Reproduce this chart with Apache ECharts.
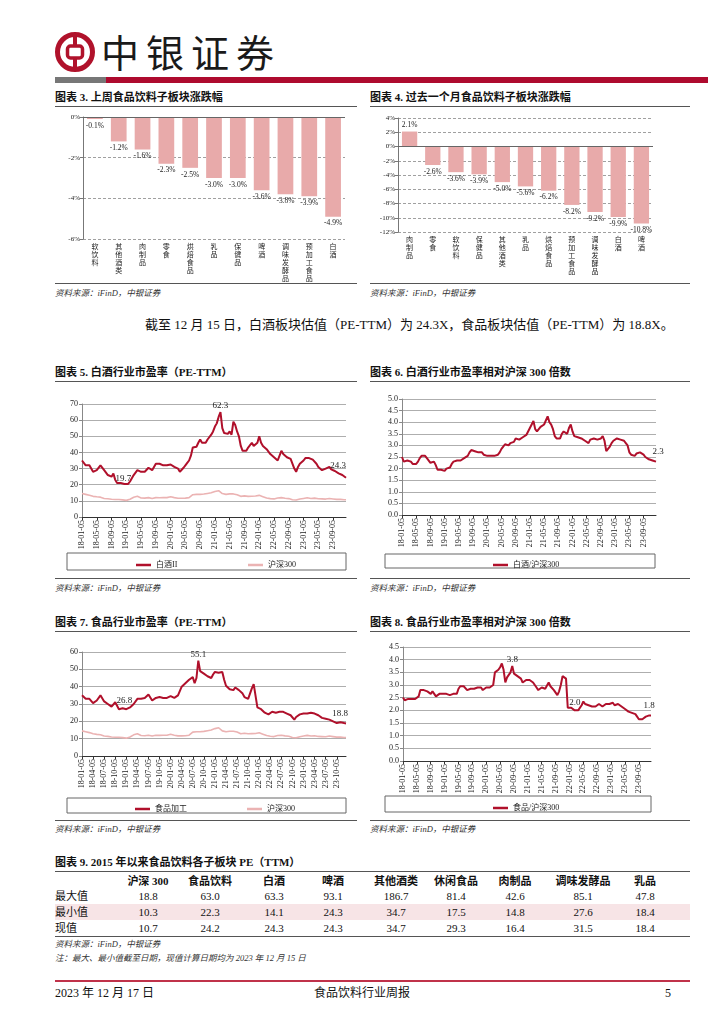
<!DOCTYPE html>
<html><head><meta charset="utf-8">
<script src="https://cdn.jsdelivr.net/npm/echarts@6/dist/echarts.min.js"></script>
<style>
html,body{margin:0;padding:0}
body{width:724px;height:1024px;position:relative;background:#fff;font-family:"Liberation Serif","Noto Sans CJK SC",serif;overflow:hidden;color:#111}
.abs{position:absolute;white-space:nowrap}
.title{font-weight:bold;font-size:11px;font-family:"Liberation Serif","Noto Sans CJK SC",serif;line-height:14px}
.hr{position:absolute;height:0;border-top:1.5px solid #555}
.src{font-style:italic;font-size:8.5px;color:#333;line-height:12px}
.chart{position:absolute}
.cell{position:absolute;transform:translateX(-50%);font-size:11px;line-height:14px;white-space:nowrap}
</style></head>
<body>
<script>
// ===== DATA =====
const wkCats = ['软饮料','其他酒类','肉制品','零食','烘焙食品','乳品','保健品','啤酒','调味发酵品','预加工食品','白酒'];
const wkVals = [-0.1,-1.2,-1.6,-2.3,-2.5,-3.0,-3.0,-3.6,-3.8,-3.9,-4.9];
const moCats = ['肉制品','零食','软饮料','保健品','其他酒类','乳品','烘焙食品','预加工食品','调味发酵品','白酒','啤酒'];
const moVals = [2.1,-2.6,-3.6,-3.9,-5.0,-5.6,-6.2,-8.2,-9.2,-9.9,-10.8];

// semi-monthly series 2018-01 .. 2023-12 (two readings per month)
const baijiuPE = [
 35,36, 32,33, 32,31, 28,28.5, 29,30, 32,31, 29,28, 26,25, 25,27, 23,21, 20.5,21, 21.5,20.5,
 19.7,20.5, 22,24, 26,27, 29,28.5, 28,28, 28,29, 30.5,30, 29,30, 33,33.5, 33,32.5, 32,33, 32,32,
 32.5,31.5, 31,31.5, 30,28, 29,30.5, 32,33.5, 35,38, 43,44, 43.5,46, 48,46, 45,46, 48,49, 51,53,
 56,58, 62,65, 55,52, 53,51.5, 53,51, 59,57, 53,50, 44,41, 42,41, 43,44, 46,44, 44,46,
 50,46, 44,44, 42,41, 39,38, 37,36, 35,36, 41,39, 38,37, 36,36, 35,30, 28,31, 33,34,
 35,36.5, 37,36.5, 36,35.5, 35,33, 31,30, 29,29.5, 30,30.5, 31,29.5, 29,28.5, 28,27, 27,26, 25.5,24.3
];
const hs300PE = [
 14.5,15, 14,13.5, 13.5,13, 12.8,12.5, 12.5,12.6, 12.3,11.8, 11.5,11.8, 11.3,11.2, 11,11.3, 10.8,10.6, 10.8,10.7, 10.6,10.4,
 10.3,10.6, 11,11.8, 12.2,12.4, 12.8,12.6, 11.8,11.5, 11.7,12, 12,11.9, 11.5,11.6, 12,12.1, 11.9,12, 12,11.8, 12,12.3,
 12.5,12.3, 12,12.4, 11.6,11.2, 11.6,11.8, 11.7,11.8, 12,12.4, 13.8,14, 14,14.3, 14,13.8, 14.2,14.2, 14.6,14.8, 15,15.2,
 15.8,16, 16.3,15.5, 14.5,14.3, 14,14.2, 14.3,14, 14.3,14, 13.8,13, 12.8,12.9, 13.1,13, 12.8,12.9, 12.9,12.8, 13,13.1,
 13.4,12.9, 12.6,12.5, 11.8,11.5, 11.4,11, 11.2,11.3, 11.8,12, 12,11.7, 11.6,11.6, 11.4,10.9, 10.7,10.3, 10.5,10.8, 11.1,11.2,
 11.5,11.8, 11.9,11.7, 11.5,11.6, 11.7,11.5, 11.3,11.1, 11.2,11.2, 11.1,11.4, 11.5,11.2, 11.2,11.1, 10.9,10.8, 10.9,10.8, 10.7,10.7
];
const baijiuRel = [
 2.5,2.3, 2.3,2.35, 2.35,2.3, 2.2,2.15, 2.2,2.3, 2.45,2.55, 2.6,2.55, 2.45,2.4, 2.25,2.25, 2.3,2.15, 1.95,1.9, 1.95,2.0,
 1.9,2.0, 2.0,2.05, 2.2,2.3, 2.3,2.35, 2.4,2.35, 2.4,2.45, 2.5,2.55, 2.7,2.8, 2.75,2.75, 2.75,2.7, 2.75,2.7, 2.6,2.55,
 2.55,2.6, 2.55,2.6, 2.55,2.6, 2.6,2.7, 2.85,2.95, 3.05,3.05, 3.0,3.1, 3.1,3.15, 3.3,3.25, 3.25,3.3, 3.35,3.4, 3.45,3.5,
 3.75,3.9, 4.05,3.7, 3.6,3.65, 3.8,3.75, 3.9,3.95, 4.25,4.0, 3.9,3.7, 3.4,3.3, 3.35,3.3, 3.5,3.6, 3.55,3.5, 3.75,3.9,
 3.6,3.4, 3.4,3.35, 3.3,3.3, 3.25,3.2, 3.15,3.1, 3.25,3.3, 3.3,3.3, 3.25,3.3, 3.3,3.4, 3.2,2.75, 2.8,2.95, 3.1,3.2,
 3.25,3.3, 3.3,3.25, 3.25,3.2, 3.1,3.0, 2.7,2.6, 2.6,2.55, 2.65,2.6, 2.7,2.75, 2.6,2.5, 2.45,2.4, 2.4,2.35, 2.35,2.3
];
const foodPE = [
 35,35.5, 33,34, 33,32, 30.5,30, 32,33, 35,34, 31.5,31, 30,29, 28.5,29, 31,29, 27,27.5, 27.5,27,
 27,27.5, 28,29, 30,31, 33,34, 33,33, 33.5,34, 35.5,34.5, 32,31.5, 33.5,34, 34,33.5, 33.5,34, 33.5,34.5,
 34.5,35, 33.5,34.5, 35,36, 40,40.5, 42,42.5, 44,45, 45.5,42, 45,55, 49,48, 47.5,46.5, 46,46, 45,47,
 48.5,49.5, 48,49, 48.5,44, 40.5,39.5, 38.5,39, 38,39.5, 40,38, 37,36, 34,33, 33,36, 39,41.5, 40.5,28,
 28,27, 26,25, 24.5,24, 24.5,25.5, 25.5,25, 25,25.5, 26.5,25.5, 25,24.5, 24,23.5, 23.5,21, 22.5,23.5, 24,24.5,
 24.5,24.5, 24.5,25, 25,24.5, 24.5,24, 23.5,23, 22,21.5, 21.5,21, 21,20.5, 20,19.5, 19,18.5, 19.5,19.5, 19,18.8
];
const foodRel = [
 2.5,2.4, 2.4,2.45, 2.45,2.45, 2.5,2.45, 2.5,2.55, 2.8,2.75, 2.8,2.85, 2.75,2.7, 2.65,2.75, 2.7,2.55, 2.6,2.65, 2.65,2.65,
 2.7,2.65, 2.65,2.6, 2.55,2.65, 2.7,2.65, 2.85,2.95, 3.0,2.95, 2.9,2.8, 2.85,2.85, 2.9,2.85, 2.85,2.9, 2.95,2.9, 2.8,2.85,
 2.9,2.95, 2.9,2.95, 3.0,3.5, 3.55,3.6, 3.7,3.85, 3.6,3.1, 3.3,3.4, 3.5,3.75, 3.45,3.4, 3.35,3.3, 3.25,3.1, 3.05,3.2,
 3.25,3.2, 3.15,3.1, 3.0,2.9, 2.8,2.85, 2.9,2.9, 2.85,2.9, 3.1,2.95, 2.9,2.8, 2.7,2.6, 2.75,3.0, 3.35,3.3, 3.25,2.1,
 2.15,2.1, 2.05,2.0, 1.98,2.0, 2.05,2.2, 2.35,2.25, 2.2,2.2, 2.2,2.15, 2.2,2.15, 2.2,2.25, 2.2,2.15, 2.2,2.25, 2.2,2.25,
 2.3,2.3, 2.2,2.25, 2.25,2.2, 2.15,2.1, 2.05,2.0, 1.95,1.95, 1.9,1.9, 1.85,1.75, 1.65,1.65, 1.65,1.7, 1.75,1.75, 1.8,1.8
];
// annotated points: index into the series, text shown
const baijiuNotes = [{i:24,t:'19.7'},{i:75,t:'62.3'},{i:143,t:'24.3'}];
const baijiuRelNotes = [{i:143,t:'2.3'}];
const foodNotes = [{i:23,t:'26.8'},{i:63,t:'55.1'},{i:143,t:'18.8'}];
const foodRelNotes = [{i:63,t:'3.8'},{i:98,t:'2.0'},{i:143,t:'1.8'}];

const tableHeaders = ['沪深 300','食品饮料','白酒','啤酒','其他酒类','休闲食品','肉制品','调味发酵品','乳品'];
const tableRowNames = ['最大值','最小值','现值'];
const tableMax = ['18.8','63.0','63.3','93.1','186.7','81.4','42.6','85.1','47.8'];
const tableMin = ['10.3','22.3','14.1','24.3','34.7','17.5','14.8','27.6','18.4'];
const tableNow = ['10.7','24.2','24.3','24.3','34.7','29.3','16.4','31.5','18.4'];
</script>

<!-- header -->
<svg class="abs" style="left:54px;top:31px" width="42" height="42" viewBox="0 0 42 42">
 <circle cx="21" cy="21" r="17.5" fill="none" stroke="#B0122B" stroke-width="5"/>
 <rect x="13.5" y="15" width="15" height="12" rx="3" fill="none" stroke="#B0122B" stroke-width="3.5"/>
 <rect x="19" y="3" width="4" height="12" fill="#B0122B"/>
 <rect x="19" y="27" width="4" height="12" fill="#B0122B"/>
</svg>
<div class="abs" style="left:101px;top:28px;font-size:38px;line-height:46px;letter-spacing:7px;font-family:'Noto Sans CJK SC';color:#1a1a1a">中银证券</div>
<div class="abs" style="left:55px;top:77px;width:51px;height:6px;background:#777"></div>
<div class="abs" style="left:106px;top:77px;width:602px;height:6px;background:#AE0A2E"></div>

<div class="abs title" style="left:55px;top:90px">图表 3. 上周食品饮料子板块涨跌幅</div>
<div class="abs title" style="left:370px;top:90px">图表 4. 过去一个月食品饮料子板块涨跌幅</div>
<div class="hr" style="left:55px;top:106px;width:302px"></div>
<div class="hr" style="left:370px;top:106px;width:320px"></div>
<div id="c3" class="chart" style="left:55px;top:108px;width:302px;height:175px"></div>
<div id="c4" class="chart" style="left:370px;top:108px;width:320px;height:175px"></div>
<div class="hr" style="left:55px;top:283px;width:302px"></div>
<div class="hr" style="left:370px;top:283px;width:320px"></div>
<div class="abs src" style="left:55px;top:287px">资料来源：iFinD，中银证券</div>
<div class="abs src" style="left:370px;top:287px">资料来源：iFinD，中银证券</div>

<div class="abs" style="left:145px;top:316px;font-size:13px;line-height:18px">截至 12 月 15 日，白酒板块估值（PE-TTM）为 24.3X，食品板块估值（PE-TTM）为 18.8X。</div>

<div class="abs title" style="left:55px;top:365px">图表 5. 白酒行业市盈率（PE-TTM）</div>
<div class="abs title" style="left:370px;top:365px">图表 6. 白酒行业市盈率相对沪深 300 倍数</div>
<div class="hr" style="left:55px;top:381px;width:302px"></div>
<div class="hr" style="left:370px;top:381px;width:320px"></div>
<div id="c5" class="chart" style="left:55px;top:390px;width:302px;height:185px"></div>
<div id="c6" class="chart" style="left:370px;top:390px;width:320px;height:185px"></div>
<div class="hr" style="left:55px;top:578px;width:302px"></div>
<div class="hr" style="left:370px;top:578px;width:320px"></div>
<div class="abs src" style="left:55px;top:582px">资料来源：iFinD，中银证券</div>
<div class="abs src" style="left:370px;top:582px">资料来源：iFinD，中银证券</div>

<div class="abs title" style="left:55px;top:615px">图表 7. 食品行业市盈率（PE-TTM）</div>
<div class="abs title" style="left:370px;top:615px">图表 8. 食品行业市盈率相对沪深 300 倍数</div>
<div class="hr" style="left:55px;top:631px;width:302px"></div>
<div class="hr" style="left:370px;top:631px;width:320px"></div>
<div id="c7" class="chart" style="left:55px;top:640px;width:302px;height:178px"></div>
<div id="c8" class="chart" style="left:370px;top:640px;width:320px;height:178px"></div>
<div class="hr" style="left:55px;top:820px;width:302px"></div>
<div class="hr" style="left:370px;top:820px;width:320px"></div>
<div class="abs src" style="left:55px;top:823px">资料来源：iFinD，中银证券</div>
<div class="abs src" style="left:370px;top:823px">资料来源：iFinD，中银证券</div>

<div class="abs title" style="left:55px;top:855px">图表 9. 2015 年以来食品饮料各子板块 PE（TTM）</div>
<div class="hr" style="left:55px;top:871px;width:635px"></div>
<div class="abs" style="left:55px;top:904px;width:635px;height:16px;background:#F7E4E6"></div>
<div id="tbl"></div>
<div class="hr" style="left:55px;top:936px;width:635px"></div>
<div class="abs src" style="left:55px;top:938px">资料来源：iFinD，中银证券</div>
<div class="abs src" style="left:55px;top:952px">注：最大、最小值截至日期，现值计算日期均为 2023 年 12 月 15 日</div>

<div class="abs" style="left:55px;top:980px;width:635px;height:2px;background:#C0324A"></div>
<div class="abs" style="left:55px;top:985px;font-size:12px;line-height:16px">2023 年 12 月 17 日</div>
<div class="abs" style="left:362px;top:985px;font-size:12px;line-height:16px;transform:translateX(-50%)">食品饮料行业周报</div>
<div class="abs" style="left:665px;top:985px;font-size:12px;line-height:16px">5</div>

<script>
// dates (category axis)
const dates = [];
for (let y = 18; y <= 23; y++) {
  for (let m = 1; m <= 12; m++) {
    const mm = (m < 10 ? '0' : '') + m;
    dates.push(y + '-' + mm + '-05');
    dates.push(y + '-' + mm + (y === 23 && m === 12 ? '-15' : '-20'));
  }
}

const FONT = '"Liberation Serif","Noto Sans CJK SC",serif';
const RED = '#B0102B', PINK = '#EBB3B3', BAR = '#E8AAAA';

// table
(function(){
  const centers = [148,210,274,333,396,456,515,583,645];
  const rows = [tableMax, tableMin, tableNow];
  let h = '';
  tableHeaders.forEach((t,i)=>{ h += `<div class="cell" style="left:${centers[i]}px;top:874px;font-weight:bold">${t}</div>`; });
  tableRowNames.forEach((n,r)=>{
    const top = 889 + r*16;
    h += `<div class="abs" style="left:55px;top:${top}px;font-size:11px;line-height:14px">${n}</div>`;
    rows[r].forEach((v,i)=>{ h += `<div class="cell" style="left:${centers[i]}px;top:${top}px">${v}</div>`; });
  });
  document.getElementById('tbl').innerHTML = h;
})();

function barChart(id, cats, vals, ymin, ymax, grid) {
  const ch = echarts.init(document.getElementById(id), null, {renderer:'canvas'});
  ch.setOption({
    animation:false,
    grid: grid,
    xAxis: {
      type:'category', data:cats, position:'bottom',
      axisLine:{show:false, onZero:false}, axisTick:{show:false},
      axisLabel:{interval:0, fontFamily:FONT, fontSize:7, lineHeight:8, color:'#222', margin:4,
        verticalAlign:'top', formatter:v=>v.split('').join('\n')}
    },
    yAxis: {
      type:'value', min:ymin, max:ymax, interval:2,
      axisLine:{show:true, lineStyle:{color:'#777'}}, axisTick:{show:true, length:3, lineStyle:{color:'#777'}},
      axisLabel:{fontFamily:FONT, fontSize:7, color:'#222', margin:3, formatter:v=>v+'%'},
      splitLine:{show:true, lineStyle:{color:'#888', type:[3,2], width:0.8}}
    },
    series: [{
      type:'bar', barCategoryGap:'34%',
      itemStyle:{color:BAR},
      data: vals.map(v=>({value:v, label:{show:true, position: v<0?'bottom':'top'}})),
      label:{fontFamily:FONT, fontSize:7.5, color:'#222', distance:3, formatter:p=>p.value.toFixed(1)+'%'},
      markLine:{silent:true, symbol:'none', label:{show:false}, lineStyle:{color:'#666', type:'solid', width:1}, data:[{yAxis:0}]}
    }]
  });
}
barChart('c3', wkCats, wkVals, -6, 0, {left:28, right:12, top:9, bottom:41});
barChart('c4', moCats, moVals, -12, 4, {left:28, right:37, top:10, bottom:51});

function lineChart(id, o) {
  const ch = echarts.init(document.getElementById(id), null, {renderer:'canvas'});
  const series = o.series.map(s=>{
    const ser = {
      type:'line', name:s.name, symbol:'none', z:s.z||2,
      lineStyle:{color:s.color, width:s.width},
      itemStyle:{color:s.color},
      data: s.data
    };
    if (s.notes) {
      ser.markPoint = {
        symbol:'circle', symbolSize:0, silent:true,
        label:{show:true, position:'top', distance:2, formatter:'{b}', fontFamily:FONT, fontSize:9, color:'#222'},
        data: s.notes.map((n,k)=>({name:n.t, coord:[dates[n.i], s.data[n.i]],
          label:{offset:(s.noteOffsets||[])[k]||[0,0]}}))
      };
    }
    return ser;
  });
  const legends = o.series.map((s,k)=>({
    data:[s.name], left:o.legendX[k], top:o.legendY, icon:'rect', itemWidth:15, itemHeight:2.5, itemGap:4,
    textStyle:{fontFamily:FONT, fontSize:8, color:'#222'}
  }));
  ch.setOption({
    animation:false,
    grid:o.grid,
    legend:legends,
    graphic:[{type:'rect', shape:o.box, style:{fill:'none', stroke:'#666', lineWidth:1}}],
    xAxis:{type:'category', data:dates, boundaryGap:false,
      axisLine:{show:true, lineStyle:{color:'#333', width:1}},
      axisTick:{show:true, interval:o.labelInt, length:3, lineStyle:{color:'#333'}},
      axisLabel:{interval:o.labelInt, rotate:90, fontFamily:FONT, fontSize:8, color:'#222', margin:3},
      splitLine:{show:false}},
    yAxis:{type:'value', min:o.min, max:o.max, interval:o.interval,
      axisLine:{show:true, lineStyle:{color:'#888'}}, axisTick:{show:true, length:3, lineStyle:{color:'#888'}},
      axisLabel:{fontFamily:FONT, fontSize:8, color:'#222', margin:4, formatter:o.fmt},
      splitLine:{show:true, lineStyle:{color:'#999', width:0.8}}},
    series:series
  });
}

lineChart('c5', {grid:{left:27, right:11, top:14, bottom:58}, min:0, max:70, interval:10, labelInt:7,
  fmt:v=>String(v),
  series:[{name:'白酒II', data:baijiuPE, color:RED, width:2, z:3, notes:baijiuNotes, noteOffsets:[[-3,0],[0,0],[-8,-6]]},
          {name:'沪深300', data:hs300PE, color:PINK, width:1.6}],
  legendX:[76, 188], legendY:166, box:{x:12, y:163, width:279, height:17}});

lineChart('c6', {grid:{left:32, right:34, top:9, bottom:60}, min:0, max:5, interval:0.5, labelInt:7,
  fmt:v=>v.toFixed(1),
  series:[{name:'白酒/沪深300', data:baijiuRel, color:RED, width:2, notes:baijiuRelNotes, noteOffsets:[[2,-3]]}],
  legendX:[118], legendY:166, box:{x:15, y:164, width:270, height:14}});

lineChart('c7', {grid:{left:27, right:11, top:12, bottom:62}, min:0, max:60, interval:10, labelInt:5,
  fmt:v=>String(v),
  series:[{name:'食品加工', data:foodPE, color:RED, width:2, z:3, notes:foodNotes, noteOffsets:[[0,-2],[0,0],[-6,-3]]},
          {name:'沪深300', data:hs300PE, color:PINK, width:1.6}],
  legendX:[75, 187], legendY:160, box:{x:12, y:158, width:279, height:15}});

lineChart('c8', {grid:{left:33, right:39, top:7, bottom:57}, min:0, max:4.5, interval:0.5, labelInt:7,
  fmt:v=>v.toFixed(1),
  series:[{name:'食品/沪深300', data:foodRel, color:RED, width:2, notes:foodRelNotes, noteOffsets:[[0,0],[2,0],[-2,-3]]}],
  legendX:[118], legendY:159, box:{x:15, y:156, width:266, height:16}});
</script>
</body></html>
